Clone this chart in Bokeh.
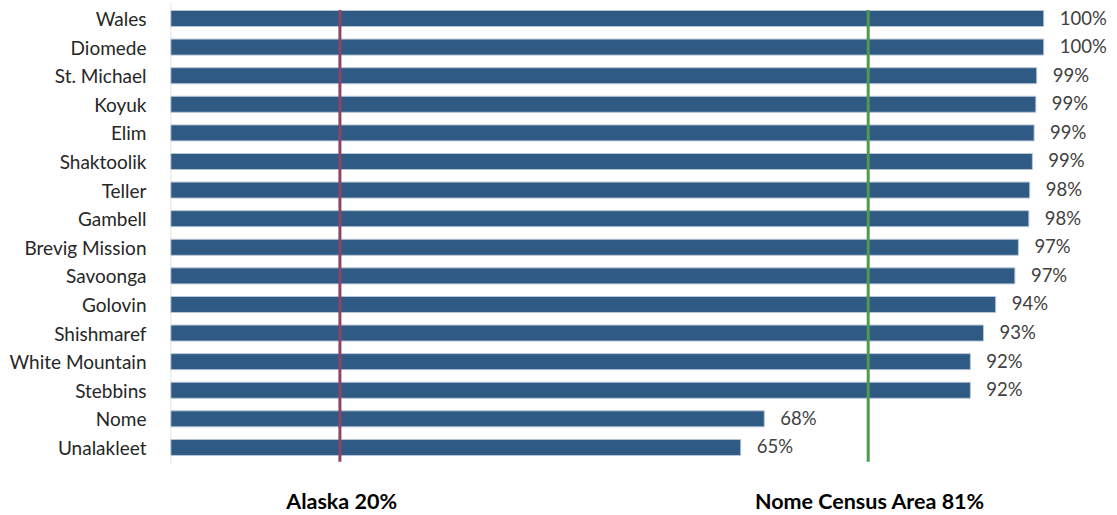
from bokeh.plotting import figure
from bokeh.models import Range1d, ColumnDataSource, Label, FixedTicker
from bokeh.embed import file_html
from bokeh.resources import INLINE

communities = ["Wales", "Diomede", "St. Michael", "Koyuk", "Elim", "Shaktoolik", "Teller",
               "Gambell", "Brevig Mission", "Savoonga", "Golovin", "Shishmaref",
               "White Mountain", "Stebbins", "Nome", "Unalakleet"]
values = [100.0, 100.0, 99.2, 99.1, 98.9, 98.7, 98.4, 98.3, 97.1, 96.7, 94.5, 93.1,
          91.6, 91.6, 68.0, 65.3]
value_labels = ["100%", "100%", "99%", "99%", "99%", "99%", "98%", "98%", "97%", "97%",
                "94%", "93%", "92%", "92%", "68%", "65%"]
ref_names = ["Alaska 20%", "Nome Census Area 81%"]
ref_positions = [19.4, 79.9]
ref_colors = ["#8E4466", "#4E9A4E"]

n = len(communities)
ys = [n - 1 - i for i in range(n)]

p = figure(width=1117, height=515, output_backend="svg", toolbar_location=None,
           x_range=Range1d(0, 108.45), y_range=Range1d(-2.38, 15.63),
           min_border_left=170, min_border_right=0, min_border_top=0, min_border_bottom=0)
p.outline_line_color = None
p.xgrid.visible = False
p.ygrid.visible = False
p.xaxis.visible = False
p.background_fill_color = "white"
p.border_fill_color = "white"

src = ColumnDataSource(dict(y=ys, v=values, lab=value_labels, name=communities))
p.hbar(y="y", left=0, right="v", height=0.56, source=src,
       fill_color="#2E5A84", line_color="#B9C6D6", line_width=1)

# category axis baseline
p.segment(x0=[0], x1=[0], y0=[n - 1 + 0.55], y1=[-0.55], line_color="#D9D9D9", line_width=1.5)

for name, pos, col in zip(ref_names, ref_positions, ref_colors):
    p.segment(x0=[pos], x1=[pos], y0=[n - 1 + 0.3], y1=[-0.5], line_color=col, line_width=3)
    p.add_layout(Label(x=pos + 0.2, y=-1.86, text=name, text_align="center",
                       text_baseline="middle", text_font="Lato", text_font_style="bold",
                       text_font_size="21.5px", text_color="#000000"))

p.text(x="v", y="y", text="lab", source=src, x_offset=16, y_offset=-1, text_baseline="middle",
       text_align="left", text_font_size="18.5px", text_font={"value": "Lato"},
       text_color="#404040")

yax = p.yaxis[0]
yax.ticker = FixedTicker(ticks=ys)
yax.major_label_overrides = {y: c for y, c in zip(ys, communities)}
yax.axis_line_color = None
yax.major_tick_line_color = None
yax.minor_tick_line_color = None
yax.major_tick_out = 0
yax.major_tick_in = 0
yax.major_label_standoff = 24
yax.major_label_text_font = "Lato"
yax.major_label_text_font_size = "19px"
yax.major_label_text_color = "#262626"

open("out.html", "w").write(file_html(p, INLINE))
